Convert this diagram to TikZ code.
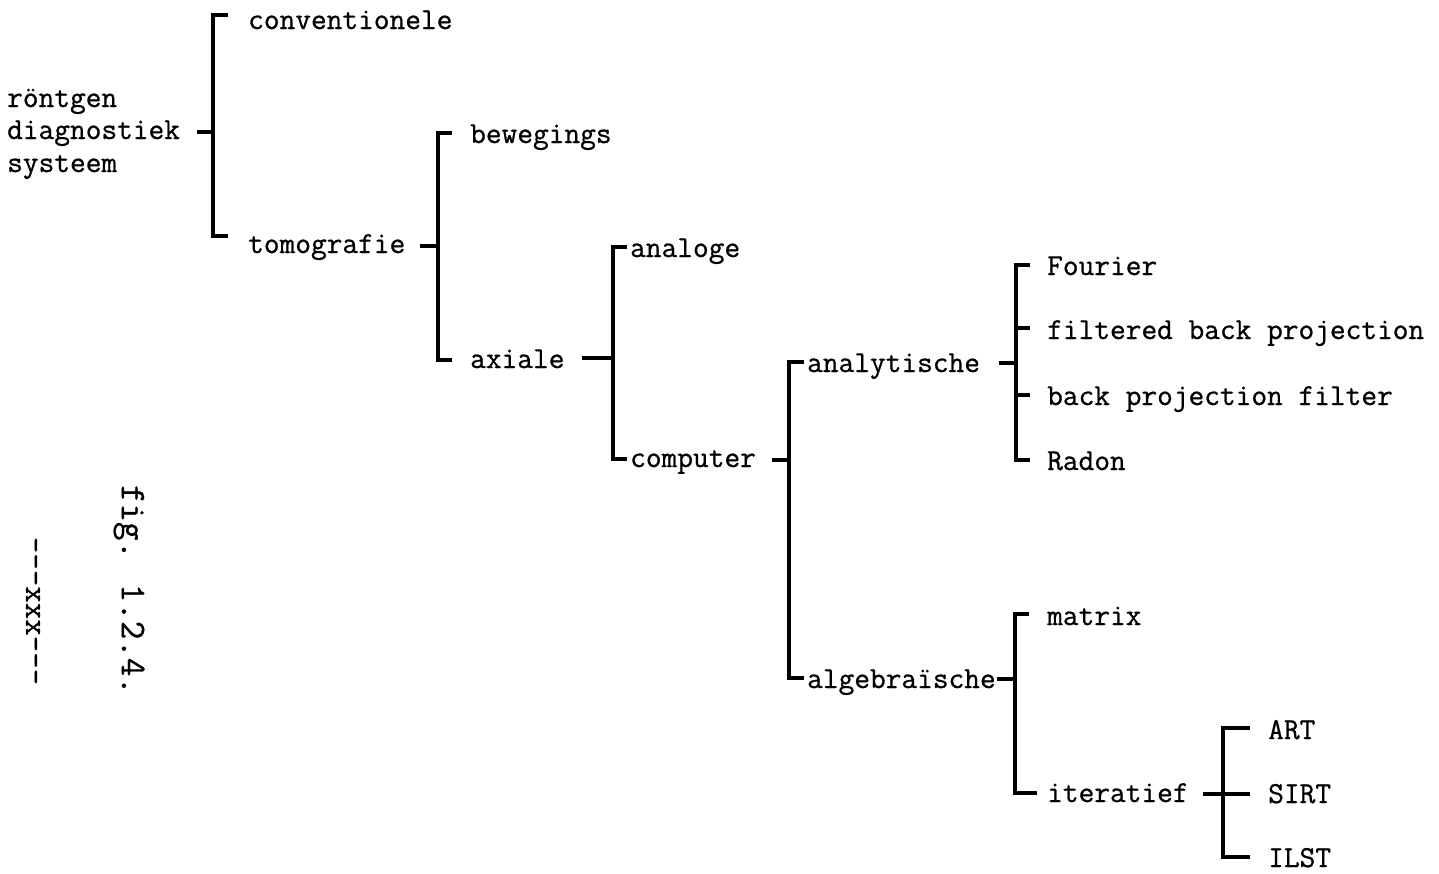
\documentclass[tikz,border=0pt]{standalone}
\usepackage{fontspec}
\newfontfamily\typew{lmmono12-regular.otf}[FakeBold=0.8]
\newcommand\lab{\typew\fontsize{30.5}{32}\selectfont}
\newcommand\figlab{\typew\fontsize{36}{38}\selectfont}
\newcommand\xxxlab{\typew\fontsize{32}{34}\selectfont}
\begin{document}
\begin{tikzpicture}[x=1pt,y=-1pt,
  lbl/.style={anchor=base west, inner sep=0pt, font=\lab},
  brk/.style={line width=3.6pt, line join=miter, line cap=butt},
  tk/.style={line width=3.6pt, line cap=butt}]
\useasboundingbox (0,0) rectangle (1439,873);

% ---- labels
\node[lbl] (r1) at (7,107) {röntgen};
\node[lbl] (r2) at (7,139) {diagnostiek};
\node[lbl] (r3) at (7,172) {systeem};
\node[lbl] (conv) at (248,29) {conventionele};
\node[lbl] (tomo) at (248,253) {tomografie};
\node[lbl] (bew) at (470,143) {bewegings};
\node[lbl] (axi) at (470,368) {axiale};
\node[lbl] (ana) at (630,257) {analoge};
\node[lbl] (comp) at (630,467) {computer};
\node[lbl] (anal) at (807,372) {analytische};
\node[lbl] (alg) at (807,688) {algebraïsche};
\node[lbl] (four) at (1047,275) {Fourier};
\node[lbl] (fbp) at (1047,339) {filtered back projection};
\node[lbl] (bpf) at (1047,405) {back projection filter};
\node[lbl] (rad) at (1047,470) {Radon};
\node[lbl] (mat) at (1047,625) {matrix};
\node[lbl] (iter) at (1047,802) {iteratief};
\node[lbl] (art) at (1268,739) {ART};
\node[lbl] (sirt) at (1268,803) {SIRT};
\node[lbl] (ilst) at (1268,867) {ILST};

\node[font=\figlab, rotate=-90, inner sep=0pt] (fig) at (129,590) {fig. 1.2.4.};
\node[font=\xxxlab, rotate=-90, inner sep=0pt] (xxx) at (33,611) {-{}-{}-xxx-{}-{}-};

% ---- bracket A (root)
\coordinate (Ap) at (197,132); \coordinate (Aj) at (213,132);
\coordinate (A1) at (228,15);  \coordinate (A2) at (228,236);
\draw[brk] (A1) -- (213,15) -- (213,236) -- (A2);
\draw[tk] (Ap) -- (Aj);

% ---- bracket B (tomografie)
\coordinate (Bp) at (420,246); \coordinate (Bj) at (438,246);
\coordinate (B1) at (452,133); \coordinate (B2) at (452,360);
\draw[brk] (B1) -- (438,133) -- (438,360) -- (B2);
\draw[tk] (Bp) -- (Bj);

% ---- bracket C (axiale)
\coordinate (Cp) at (582,358); \coordinate (Cj) at (613,358);
\coordinate (C1) at (627,247); \coordinate (C2) at (627,459);
\draw[brk] (C1) -- (613,247) -- (613,459) -- (C2);
\draw[tk] (Cp) -- (Cj);

% ---- bracket D (computer)
\coordinate (Dp) at (772,460); \coordinate (Dj) at (789,460);
\coordinate (D1) at (804,362); \coordinate (D2) at (804,678);
\draw[brk] (D1) -- (789,362) -- (789,678) -- (D2);
\draw[tk] (Dp) -- (Dj);

% ---- bracket E (analytische)
\coordinate (Ep) at (999,363); \coordinate (Ej) at (1016,363);
\coordinate (E1) at (1030,265); \coordinate (E2) at (1030,328);
\coordinate (E3) at (1030,395); \coordinate (E4) at (1030,460);
\draw[brk] (E1) -- (1016,265) -- (1016,460) -- (E4);
\draw[tk] (1016,328) -- (E2);
\draw[tk] (1016,395) -- (E3);
\draw[tk] (Ep) -- (Ej);

% ---- bracket F (algebraische)
\coordinate (Fp) at (997,679); \coordinate (Fj) at (1015,679);
\coordinate (F1) at (1029,614); \coordinate (F2) at (1037,793);
\draw[brk] (F1) -- (1015,614) -- (1015,793) -- (F2);
\draw[tk] (Fp) -- (Fj);

% ---- bracket G (iteratief)
\coordinate (Gp) at (1203,794); \coordinate (Gj) at (1223,794);
\coordinate (G1) at (1250,728); \coordinate (G2) at (1250,794);
\coordinate (G3) at (1250,857);
\draw[brk] (G1) -- (1223,728) -- (1223,857) -- (G3);
\draw[tk] (Gp) -- (G2);
\end{tikzpicture}
\end{document}
